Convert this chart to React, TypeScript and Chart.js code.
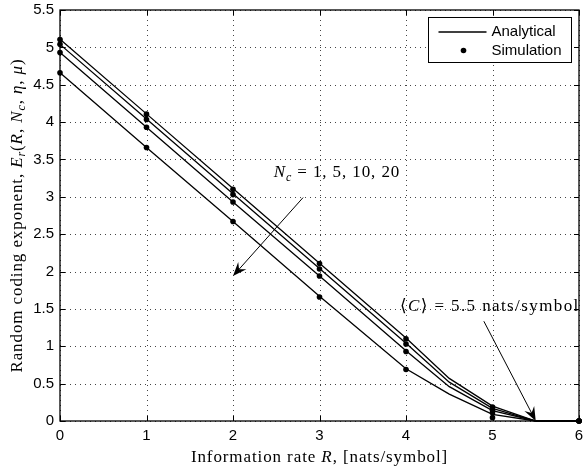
import React, { useEffect, useRef } from "react";
import { Chart, registerables } from "chart.js";

Chart.register(...registerables);

// ---------- data ----------
const analyticX = [0, 1, 2, 3, 4, 4.5, 5, 5.5, 6];
const analyticNc1 = [4.66, 3.66, 2.67, 1.67, 0.7, 0.36, 0.09, 0, 0];
const analyticNc5 = [4.93, 3.93, 2.93, 1.94, 0.94, 0.46, 0.14, 0, 0];
const analyticNc10 = [5.04, 4.04, 3.04, 2.04, 1.04, 0.52, 0.17, 0, 0];
const analyticNc20 = [5.11, 4.11, 3.11, 2.11, 1.11, 0.57, 0.2, 0, 0];

const simX = [0, 1, 2, 3, 4, 5, 6];
const simNc1 = [4.66, 3.66, 2.67, 1.66, 0.69, 0.045, 0];
const simNc5 = [4.93, 3.93, 2.93, 1.94, 0.93, 0.11, 0];
const simNc10 = [5.04, 4.035, 3.03, 2.035, 1.03, 0.143, 0];
const simNc20 = [5.106, 4.106, 3.1, 2.107, 1.1, 0.187, 0];

const xMin = 0;
const xMax = 6;
const xStep = 1;
const yMin = 0;
const yMax = 5.5;
const yStep = 0.5;

const legendLabels = ["Analytical", "Simulation"];
const xTitle = [
  { t: "Information rate " },
  { t: "R", i: true },
  { t: ", [nats/symbol]" },
];
const yTitle = [
  { t: "Random coding exponent, " },
  { t: "E", i: true },
  { t: "r", i: true, sub: true },
  { t: "(" },
  { t: "R", i: true },
  { t: ", " },
  { t: "N", i: true },
  { t: "c", i: true, sub: true },
  { t: ", " },
  { t: "η", i: true },
  { t: ", " },
  { t: "μ", i: true },
  { t: ")" },
];
const ncLabel = [
  { t: "N", i: true },
  { t: "c", i: true, sub: true },
  { t: " = 1, 5, 10, 20" },
];
const capLabel = [{ t: "⟨" }, { t: "C", i: true }, { t: "⟩ = 5.5 nats/symbol" }];

// annotation anchors in data coordinates
const ncLabelAt = { x: 2.47, y: 3.34 };
const ncArrowFrom = { x: 2.81, y: 2.99 };
const ncArrowTo = { x: 2.0, y: 1.94 };
const capLabelAt = { x: 3.93, y: 1.55 };
const capArrowFrom = { x: 4.9, y: 1.335 };
const capArrowTo = { x: 5.5, y: 0 };

// ---------- helpers ----------
type Seg = { t: string; i?: boolean; sub?: boolean };
const SERIF = '"Liberation Serif", "DejaVu Serif", serif';
const SANS = '"Liberation Sans", Arial, sans-serif';

function drawRich(
  ctx: CanvasRenderingContext2D,
  segs: Seg[],
  x: number,
  yMid: number,
  size: number,
  align: "center" | "left",
  spacing = 0.9
) {
  const c = ctx as any;
  c.letterSpacing = `${spacing}px`;
  const fontFor = (s: Seg) =>
    `${s.i ? "italic " : ""}${s.sub ? Math.round(size * 0.72) : size}px ${SERIF}`;
  const widths = segs.map((s) => {
    ctx.font = fontFor(s);
    return ctx.measureText(s.t).width;
  });
  const total = widths.reduce((a, b) => a + b, 0);
  let cx = align === "center" ? x - total / 2 : x;
  ctx.textAlign = "left";
  ctx.textBaseline = "alphabetic";
  const base = yMid + size * 0.33;
  segs.forEach((s, k) => {
    ctx.font = fontFor(s);
    ctx.fillText(s.t, cx, base + (s.sub ? size * 0.22 : 0));
    cx += widths[k];
  });
  c.letterSpacing = "0px";
}

function drawArrow(
  ctx: CanvasRenderingContext2D,
  x1: number,
  y1: number,
  x2: number,
  y2: number
) {
  const ang = Math.atan2(y2 - y1, x2 - x1);
  const L = 14;
  const W = 5.5;
  ctx.save();
  ctx.strokeStyle = "#000";
  ctx.fillStyle = "#000";
  ctx.lineWidth = 1;
  ctx.beginPath();
  ctx.moveTo(x1, y1);
  ctx.lineTo(x2 - Math.cos(ang) * L * 0.6, y2 - Math.sin(ang) * L * 0.6);
  ctx.stroke();
  const bx = x2 - Math.cos(ang) * L;
  const by = y2 - Math.sin(ang) * L;
  const nx = -Math.sin(ang);
  const ny = Math.cos(ang);
  ctx.beginPath();
  ctx.moveTo(x2, y2);
  ctx.lineTo(bx + nx * W, by + ny * W);
  ctx.lineTo(x2 - Math.cos(ang) * L * 0.65, y2 - Math.sin(ang) * L * 0.65);
  ctx.lineTo(bx - nx * W, by - ny * W);
  ctx.closePath();
  ctx.fill();
  ctx.restore();
}

const range = (a: number, b: number, s: number) => {
  const out: number[] = [];
  for (let v = a; v <= b + 1e-9; v += s) out.push(+v.toFixed(6));
  return out;
};

const framePlugin = {
  id: "matlabFrame",
  beforeDatasetsDraw(chart: any) {
    const { ctx, chartArea: a, scales } = chart;
    const xs = scales.x;
    const ys = scales.y;
    ctx.save();
    ctx.fillStyle = "#fff";
    ctx.fillRect(a.left, a.top, a.right - a.left, a.bottom - a.top);
    // dotted grid
    ctx.strokeStyle = "#444";
    ctx.lineWidth = 1;
    ctx.setLineDash([1, 4]);
    range(xMin, xMax, xStep).forEach((v) => {
      const p = Math.round(xs.getPixelForValue(v)) + 0.5;
      ctx.beginPath();
      ctx.moveTo(p, a.top);
      ctx.lineTo(p, a.bottom);
      ctx.stroke();
    });
    range(yMin, yMax, yStep).forEach((v) => {
      const p = Math.round(ys.getPixelForValue(v)) + 0.5;
      ctx.beginPath();
      ctx.moveTo(a.left, p);
      ctx.lineTo(a.right, p);
      ctx.stroke();
    });
    ctx.setLineDash([]);
    // inner tick marks
    ctx.strokeStyle = "#000";
    const tl = 5;
    range(xMin, xMax, xStep).forEach((v) => {
      const p = Math.round(xs.getPixelForValue(v)) + 0.5;
      ctx.beginPath();
      ctx.moveTo(p, a.bottom);
      ctx.lineTo(p, a.bottom - tl);
      ctx.moveTo(p, a.top);
      ctx.lineTo(p, a.top + tl);
      ctx.stroke();
    });
    range(yMin, yMax, yStep).forEach((v) => {
      const p = Math.round(ys.getPixelForValue(v)) + 0.5;
      ctx.beginPath();
      ctx.moveTo(a.left, p);
      ctx.lineTo(a.left + tl, p);
      ctx.moveTo(a.right, p);
      ctx.lineTo(a.right - tl, p);
      ctx.stroke();
    });
    // frame
    ctx.lineWidth = 1.3;
    ctx.strokeRect(a.left, a.top, a.right - a.left, a.bottom - a.top);
    ctx.restore();
  },
  afterDraw(chart: any) {
    const { ctx, chartArea: a, scales } = chart;
    const xs = scales.x;
    const ys = scales.y;
    ctx.save();
    ctx.fillStyle = "#000";
    // axis titles
    drawRich(ctx, xTitle, (a.left + a.right) / 2, 456, 17, "center");
    ctx.save();
    ctx.translate(16, (a.top + a.bottom) / 2);
    ctx.rotate(-Math.PI / 2);
    drawRich(ctx, yTitle, 0, 0, 17, "center");
    ctx.restore();
    // annotations
    drawRich(
      ctx,
      ncLabel,
      xs.getPixelForValue(ncLabelAt.x),
      ys.getPixelForValue(ncLabelAt.y),
      17,
      "left"
    );
    drawArrow(
      ctx,
      xs.getPixelForValue(ncArrowFrom.x),
      ys.getPixelForValue(ncArrowFrom.y),
      xs.getPixelForValue(ncArrowTo.x),
      ys.getPixelForValue(ncArrowTo.y)
    );
    ctx.fillStyle = "#000";
    drawRich(
      ctx,
      capLabel,
      xs.getPixelForValue(capLabelAt.x),
      ys.getPixelForValue(capLabelAt.y),
      17,
      "left",
      1.4
    );
    drawArrow(
      ctx,
      xs.getPixelForValue(capArrowFrom.x),
      ys.getPixelForValue(capArrowFrom.y),
      xs.getPixelForValue(capArrowTo.x),
      ys.getPixelForValue(capArrowTo.y)
    );
    // legend
    const bx = Math.round(a.right) - 150.5;
    const by = Math.round(a.top) + 7.5;
    const bw = 143;
    const bh = 45;
    ctx.fillStyle = "#fff";
    ctx.fillRect(bx, by, bw, bh);
    ctx.strokeStyle = "#000";
    ctx.lineWidth = 1;
    ctx.strokeRect(bx, by, bw, bh);
    ctx.beginPath();
    ctx.moveTo(bx + 10, by + 14.5);
    ctx.lineTo(bx + 58, by + 14.5);
    ctx.lineWidth = 1.3;
    ctx.stroke();
    ctx.fillStyle = "#000";
    ctx.beginPath();
    ctx.arc(bx + 35, by + 33, 2.8, 0, Math.PI * 2);
    ctx.fill();
    ctx.font = `15px ${SANS}`;
    ctx.textAlign = "left";
    ctx.textBaseline = "middle";
    ctx.fillText(legendLabels[0], bx + 63, by + 14.5);
    ctx.fillText(legendLabels[1], bx + 63, by + 33);
    ctx.restore();
  },
};

const toPts = (xs: number[], ys: number[]) => xs.map((x, k) => ({ x, y: ys[k] }));

const zeroPad = (s: any) => {
  s.paddingTop = 0;
  s.paddingBottom = 0;
  s.paddingLeft = 0;
  s.paddingRight = 0;
};

export default function App() {
  const ref = useRef<HTMLCanvasElement | null>(null);
  useEffect(() => {
    if (!ref.current) return;
    const analytic = [analyticNc1, analyticNc5, analyticNc10, analyticNc20];
    const sims = [simNc1, simNc5, simNc10, simNc20];
    const lineSets = analytic.map((ys, k) => ({
      type: "line" as const,
      label: `Analytical ${k}`,
      data: toPts(analyticX, ys),
      borderColor: "#000",
      borderWidth: 1.3,
      pointRadius: 0,
      tension: 0,
      fill: false,
      clip: false as any,
    }));
    const simSets = sims.map((ys, k) => ({
      type: "scatter" as const,
      label: `Simulation ${k}`,
      data: toPts(simX, ys),
      backgroundColor: "#000",
      borderColor: "#000",
      pointRadius: 2.8,
      pointBorderWidth: 0,
      showLine: false,
      clip: false as any,
    }));
    const chart = new Chart(ref.current, {
      type: "line",
      data: { datasets: [...lineSets, ...simSets] as any },
      options: {
        responsive: false,
        animation: false,
        layout: { padding: { top: 10, right: 3, left: 0, bottom: 0 } },
        plugins: { legend: { display: false }, tooltip: { enabled: false } },
        scales: {
          x: {
            type: "linear",
            min: xMin,
            max: xMax,
            grid: { display: false, drawTicks: false },
            border: { display: false },
            ticks: {
              stepSize: xStep,
              color: "#000",
              padding: 6,
              font: { family: SANS, size: 15 },
              maxRotation: 0,
              callback: (v: any) => String(+v),
            },
            afterFit: (s: any) => {
              s.height = 49;
              zeroPad(s);
            },
          },
          y: {
            type: "linear",
            min: yMin,
            max: yMax,
            grid: { display: false, drawTicks: false },
            border: { display: false },
            ticks: {
              stepSize: yStep,
              color: "#000",
              padding: 6,
              font: { family: SANS, size: 15 },
              callback: (v: any) => String(+(+v).toFixed(2)),
            },
            afterFit: (s: any) => {
              s.width = 60;
              zeroPad(s);
            },
          },
        },
      },
      plugins: [framePlugin],
    });
    return () => chart.destroy();
  }, []);
  return (
    <div style={{ position: "fixed", left: 0, top: 0, width: 583, height: 470, background: "#fff" }}>
      <canvas ref={ref} width={583} height={470} />
    </div>
  );
}
